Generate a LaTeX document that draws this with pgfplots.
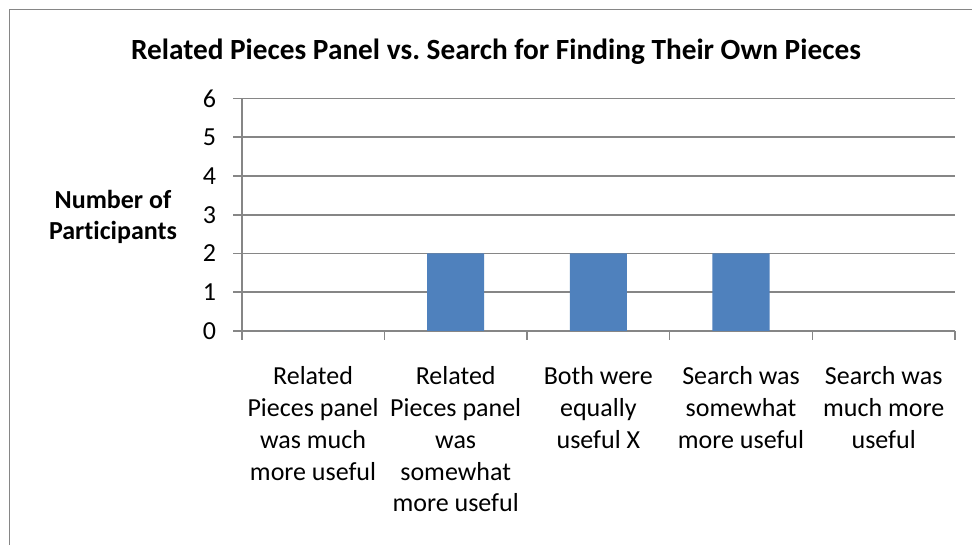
\documentclass[border=0pt]{standalone}
\usepackage{pgfplots}
\pgfplotsset{compat=1.18}
\usepackage{fontspec}
\setmainfont{Carlito}[Ligatures=NoCommon]
\frenchspacing
\definecolor{barblue}{HTML}{4F81BD}
\definecolor{gridgray}{HTML}{868686}
\begin{document}
\begin{tikzpicture}
\useasboundingbox (0,0) rectangle (486pt,272.5pt);
\fill[white] (0,0) rectangle (486pt,272.5pt);
\draw[gridgray, line width=0.8pt] (4.75pt,0) -- (4.75pt,267.75pt) -- (486pt,267.75pt);
\node[font=\fontsize{14.65}{17}\selectfont\bfseries, anchor=base] at (248pt,242.5pt)
  {Related Pieces Panel vs.\ Search for Finding Their Own Pieces};
\node[font=\fontsize{13}{15.9}\selectfont\bfseries, align=center, anchor=center] at (56.5pt,164pt)
  {Number of\\Participants};
\begin{axis}[
  scale only axis,
  width=356.65pt, height=116.25pt,
  at={(120.85pt,107pt)}, anchor=south west,
  xmin=-0.5, xmax=4.5, ymin=0, ymax=6,
  ytick={0,1,2,3,4,5,6},
  xtick={0,1,2,3,4},
  xticklabels={{Related\\Pieces panel\\was much\\more useful},
               {Related\\Pieces panel\\was\\somewhat\\more useful},
               {Both were\\equally\\useful X},
               {Search was\\somewhat\\more useful},
               {Search was\\much more\\useful}},
  minor xtick={-0.5,0.5,1.5,2.5,3.5,4.5},
  axis x line*=bottom, axis y line*=left,
  axis line style={gridgray, line width=0.8pt},
  every tick/.style={gridgray, line width=0.8pt},
  tick align=outside,
  major tick length=4.3pt,
  minor tick length=4.5pt,
  x tick style={draw=none},
  minor x tick style={draw=gridgray, line width=0.8pt},
  ymajorgrids,
  major grid style={gridgray, line width=0.8pt},
  tick label style={font=\fontsize{13}{15.9}\selectfont},
  x tick label style={align=center, anchor=north, yshift=-10pt},
  y tick label style={xshift=-5pt},
  /pgf/number format/assume math mode=true,
  clip=false,
]
\addplot[ybar, bar width=0.4, fill=barblue, draw=none] coordinates {
  (0,0) (1,2) (2,2) (3,2) (4,0)
};
\end{axis}
\end{tikzpicture}
\end{document}
